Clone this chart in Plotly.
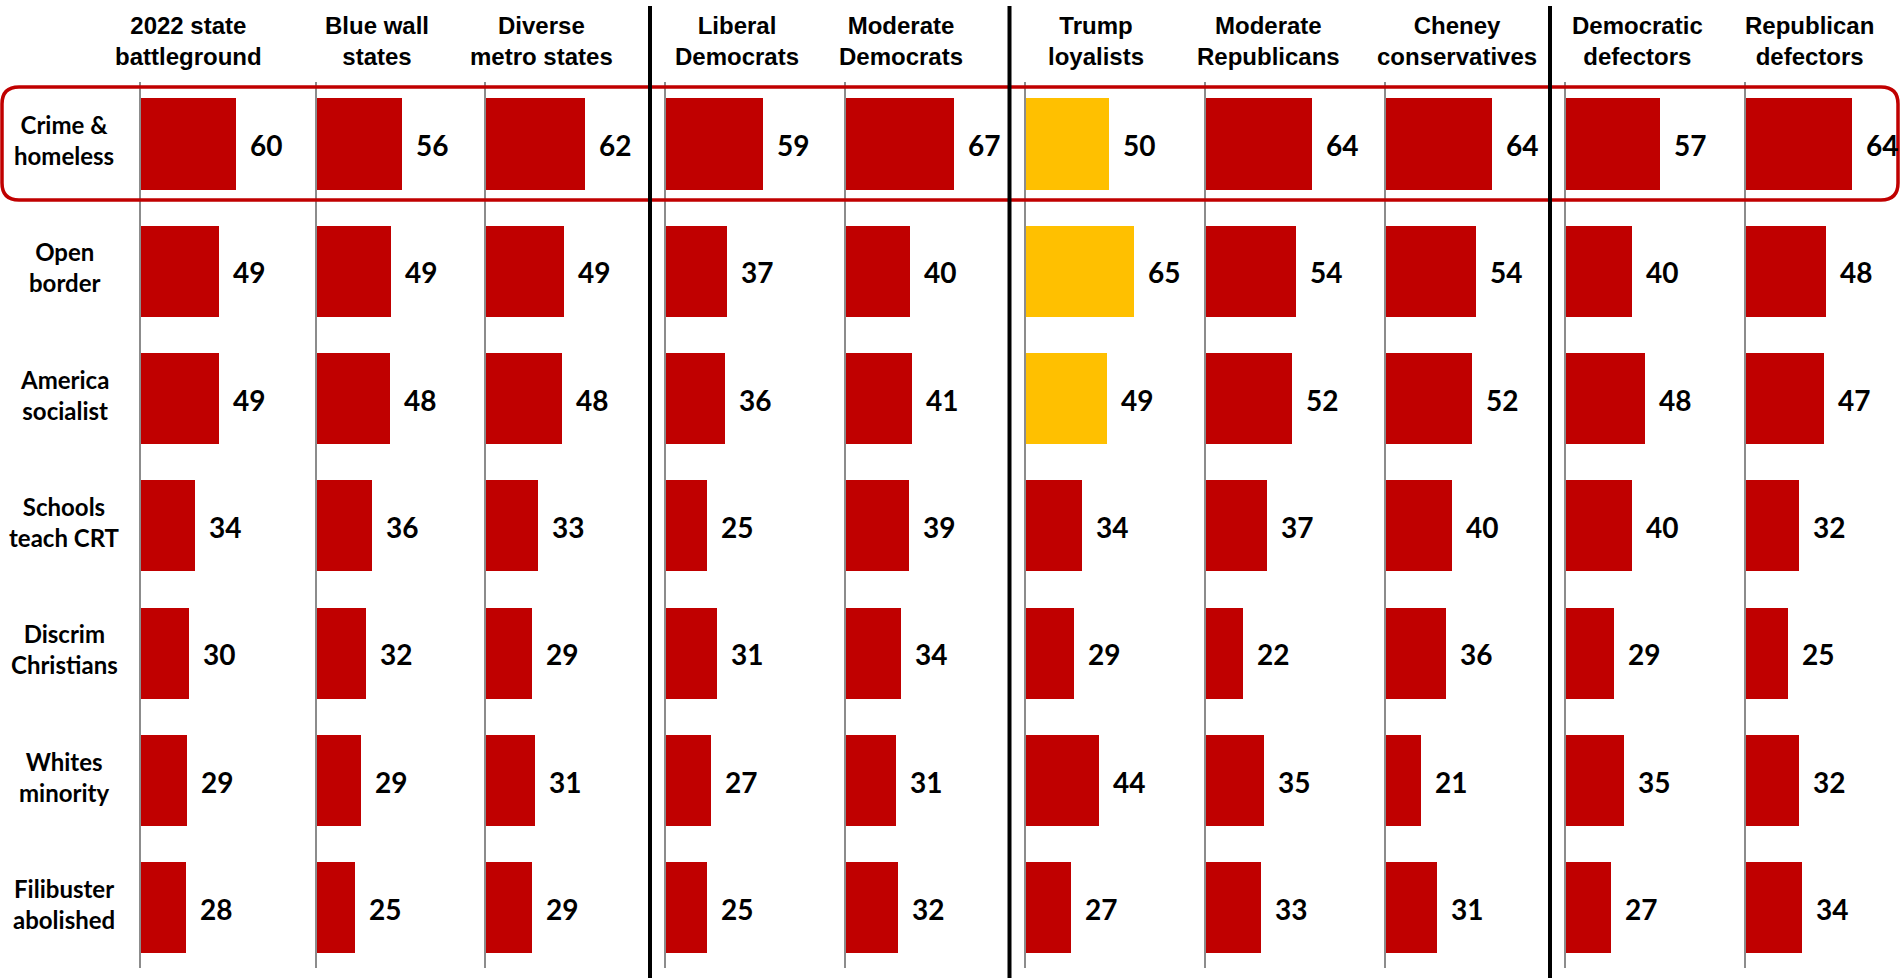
import plotly.graph_objects as go

# ---------------- data ----------------
rows = ["Crime &<br>homeless", "Open<br>border", "America<br>socialist", "Schools<br>teach CRT",
        "Discrim<br>Christians", "Whites<br>minority", "Filibuster<br>abolished"]
groups = ["2022 state<br>battleground", "Blue wall<br>states", "Diverse<br>metro states",
          "Liberal<br>Democrats", "Moderate<br>Democrats", "Trump<br>loyalists",
          "Moderate<br>Republicans", "Cheney<br>conservatives", "Democratic<br>defectors",
          "Republican<br>defectors"]
battleground = [60, 49, 49, 34, 30, 29, 28]
blue_wall = [56, 49, 48, 36, 32, 29, 25]
diverse_metro = [62, 49, 48, 33, 29, 31, 29]
liberal_dem = [59, 37, 36, 25, 31, 27, 25]
moderate_dem = [67, 40, 41, 39, 34, 31, 32]
trump_loyal = [50, 65, 49, 34, 29, 44, 27]
moderate_rep = [64, 54, 52, 37, 22, 35, 33]
cheney_cons = [64, 54, 52, 40, 36, 21, 31]
dem_defectors = [57, 40, 48, 40, 29, 35, 27]
rep_defectors = [64, 48, 47, 32, 25, 32, 34]
series = [battleground, blue_wall, diverse_metro, liberal_dem, moderate_dem,
          trump_loyal, moderate_rep, cheney_cons, dem_defectors, rep_defectors]
# highlighted cells (group index, row index)
highlight = [(5, 0), (5, 1), (5, 2)]

# ---------------- layout helpers ----------------
W, H = 1901, 978
RED, YELLOW = "#C00000", "#FFC000"
def X(p): return p / W
def Y(p): return 1 - p / H

axis_left = [141, 317, 486, 666, 846, 1026, 1206, 1386, 1566, 1746]
px_per_unit = [1.59, 1.52, 1.59, 1.65, 1.61, 1.66, 1.66, 1.66, 1.65, 1.66]
header_cx = [188, 377, 541, 737, 901, 1096, 1268, 1457, 1637, 1809]
dom_top, dom_bot = 82, 968
row0_c, row_step = 144, 127.3
yr = [(dom_bot - row0_c) / row_step, (dom_top - row0_c) / row_step]

fig = go.Figure()
annotations = []
for ci, vals in enumerate(series):
    n = ci + 1
    xa = "x" if n == 1 else f"x{n}"
    ya = "y" if n == 1 else f"y{n}"
    width = 160 if n < 10 else W - axis_left[ci]
    colors = [YELLOW if (ci, r) in highlight else RED for r in range(len(rows))]
    fig.add_trace(go.Bar(x=vals, y=list(range(len(rows))), orientation="h",
                         marker=dict(color=colors, line=dict(width=0)), width=0.715,
                         xaxis=xa, yaxis=ya, showlegend=False, hoverinfo="x"))
    fig.layout[f"xaxis{'' if n == 1 else n}"] = dict(
        domain=[X(axis_left[ci]), X(axis_left[ci] + width)], range=[0, width / px_per_unit[ci]],
        visible=False, anchor=ya, fixedrange=True)
    fig.layout[f"yaxis{'' if n == 1 else n}"] = dict(
        domain=[Y(dom_bot), Y(dom_top)], range=yr, showticklabels=False, showgrid=False,
        zeroline=False, showline=True, linecolor="#8c8c8c", linewidth=2, ticks="",
        anchor=xa, fixedrange=True)
    for r, v in enumerate(vals):
        annotations.append(dict(xref=xa, yref=ya, x=v, y=r, xanchor="left", yanchor="middle",
                                xshift=12, yshift=-1, text=str(v), showarrow=False,
                                font=dict(family="Lato", size=28, color="black", weight="bold")))
    annotations.append(dict(xref="paper", yref="paper", x=X(header_cx[ci]), y=Y(41),
                            xanchor="center", yanchor="middle", text=groups[ci], showarrow=False,
                            font=dict(family="Liberation Sans, Arial", size=24, color="black",
                                      weight="bold")))

for r, lab in enumerate(rows):
    annotations.append(dict(xref="paper", yref="y", x=X(64), y=r, xanchor="center", yanchor="middle",
                            yshift=4, text=lab, showarrow=False,
                            font=dict(family="Lato", size=24, color="black", weight="bold")))

# rounded highlight box
x0, x1, y0, y1, rad = 2, 1898, 87, 200, 17
path = (f"M {X(x0+rad)},{Y(y0)} L {X(x1-rad)},{Y(y0)} Q {X(x1)},{Y(y0)} {X(x1)},{Y(y0+rad)} "
        f"L {X(x1)},{Y(y1-rad)} Q {X(x1)},{Y(y1)} {X(x1-rad)},{Y(y1)} "
        f"L {X(x0+rad)},{Y(y1)} Q {X(x0)},{Y(y1)} {X(x0)},{Y(y1-rad)} "
        f"L {X(x0)},{Y(y0+rad)} Q {X(x0)},{Y(y0)} {X(x0+rad)},{Y(y0)} Z")
shapes = [dict(type="path", xref="paper", yref="paper", path=path,
               line=dict(color=RED, width=3.5), layer="above")]
for sx in [650, 1009.5, 1550]:
    shapes.append(dict(type="line", xref="paper", yref="paper", x0=X(sx), x1=X(sx),
                       y0=Y(6), y1=Y(H), line=dict(color="black", width=4), layer="above"))

fig.update_layout(width=W, height=H, margin=dict(l=0, r=0, t=0, b=0),
                  paper_bgcolor="white", plot_bgcolor="white", bargap=0,
                  annotations=annotations, shapes=shapes)
fig.write_html("out.html", config={"displayModeBar": False},
               post_script="document.body.style.margin='0';document.body.style.overflow='hidden';")
